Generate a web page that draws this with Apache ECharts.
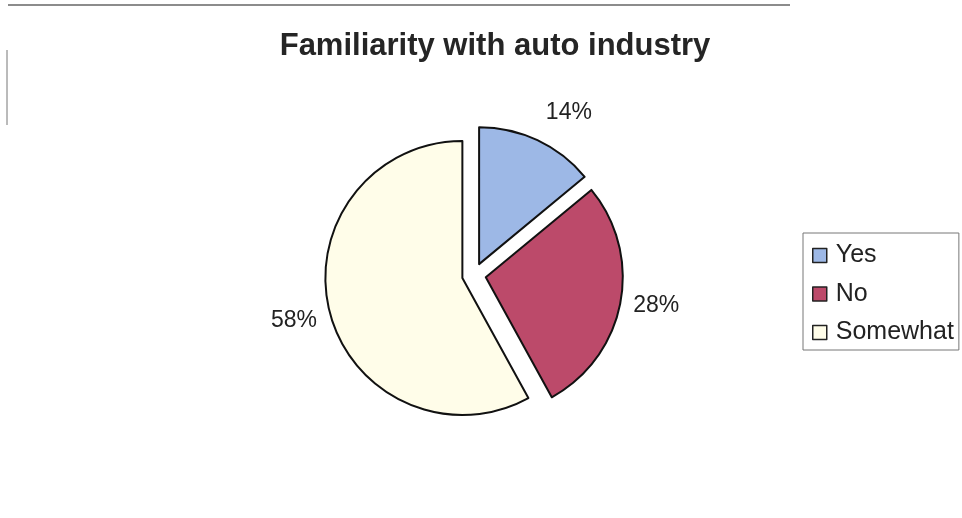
<!DOCTYPE html>
<html><head><meta charset="utf-8">
<script src="https://cdn.jsdelivr.net/npm/echarts@6/dist/echarts.min.js"></script>
<style>html,body{margin:0;padding:0;background:#fff}#c{width:962px;height:518px}</style>
</head><body><div id="c"></div>
<script>
const categories = ['Yes', 'No', 'Somewhat'];
const values = [14, 28, 58];
const colors = ['#9DB8E6', '#BC4A6A', '#FFFDE9'];

const chart = echarts.init(document.getElementById('c'), null, {renderer: 'canvas'});
const labelShift = [-20, 1, 7];
chart.setOption({
  animation: false,
  backgroundColor: '#fff',
  title: {
    text: 'Familiarity with auto industry',
    left: 490, top: 26, textAlign: 'center',
    textStyle: {fontFamily: 'Liberation Sans', fontWeight: 'bold', fontSize: 31, color: '#252525'}
  },
  legend: {
    orient: 'vertical',
    left: 803, top: 233,
    padding: [10, 5, 5, 9],
    itemGap: 13.5,
    itemWidth: 14, itemHeight: 14,
    icon: 'rect',
    borderColor: '#777', borderWidth: 1,
    itemStyle: {borderColor: '#222', borderWidth: 1.5},
    textStyle: {fontFamily: 'Liberation Sans', fontSize: 25, lineHeight: 25, color: '#222', padding: [0, 0, 0, 4]},
    data: categories
  },
  graphic: [
    {type: 'line', shape: {x1: 8, y1: 5, x2: 790, y2: 5}, style: {stroke: '#666', lineWidth: 1.5}},
    {type: 'line', shape: {x1: 7, y1: 50, x2: 7, y2: 125}, style: {stroke: '#777', lineWidth: 1}}
  ],
  series: [{
    type: 'pie',
    center: [474, 275],
    radius: 137,
    startAngle: 90,
    clockwise: true,
    selectedMode: 'multiple',
    selectedOffset: 12,
    emphasis: {disabled: true},
    itemStyle: {borderColor: '#111', borderWidth: 2},
    label: {
      show: true, position: 'outside', formatter: '{d}%',
      fontFamily: 'Liberation Sans', fontSize: 23, color: '#222'
    },
    labelLine: {show: false, length: 8, length2: 0},
    labelLayout: function (p) { return {dy: labelShift[p.dataIndex]}; },
    data: categories.map((c, i) => ({
      name: c, value: values[i], selected: true,
      itemStyle: {color: colors[i]}
    }))
  }]
});
</script></body></html>
